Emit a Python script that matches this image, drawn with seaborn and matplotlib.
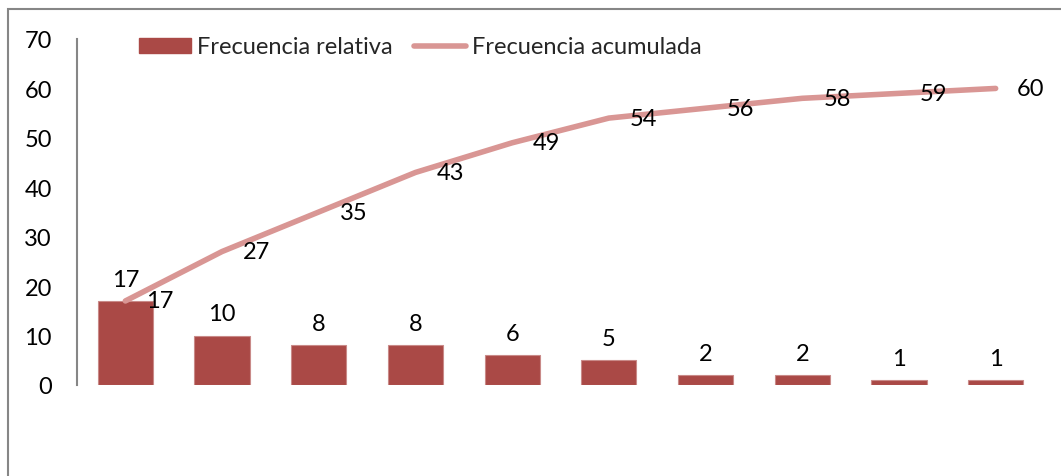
import numpy as np
import pandas as pd
import matplotlib
matplotlib.use("Agg")
import matplotlib.pyplot as plt
import seaborn as sns
from matplotlib.patches import Rectangle, Patch
from matplotlib.lines import Line2D

categories = ["1", "2", "3", "4", "5", "6", "7", "8", "9", "10"]
rel_freq = [17, 10, 8, 8, 6, 5, 2, 2, 1, 1]
cum_freq = [17, 27, 35, 43, 49, 54, 56, 58, 59, 60]
yticks = [0, 10, 20, 30, 40, 50, 60, 70]

sns.set_theme(style="white")
plt.rcParams['font.family'] = ['Lato', 'DejaVu Sans']

BAR = "#AA4946"
LINE = "#D99694"
FS = 17

W, H = 1061, 477
fig = plt.figure(figsize=(W / 100, H / 100), dpi=100)
fig.patch.set_facecolor("white")
ax = fig.add_axes([77 / W, 1 - 386 / H, (1044 - 77) / W, (386 - 40) / H])

df = pd.DataFrame({"cat": categories, "rel": rel_freq, "cum": cum_freq,
                   "pos": np.arange(len(categories))})

sns.barplot(data=df, x="cat", y="rel", color=BAR, saturation=1, width=0.57,
            edgecolor="#C98A88", linewidth=0.8, ax=ax)
sns.lineplot(data=df, x="pos", y="cum", color=LINE, linewidth=4,
             solid_capstyle="round", ax=ax)

ax.set_ylim(0, 70)
ax.set_xlim(-0.5, len(categories) - 0.5)
ax.set_yticks(yticks)
ax.set_yticklabels([str(t) for t in yticks], fontsize=FS, color="black")
ax.tick_params(axis="y", length=0, pad=18)
ax.set_xticks([])
ax.set_xlabel("")
ax.set_ylabel("")
for s in ["top", "right", "bottom"]:
    ax.spines[s].set_visible(False)
ax.spines["left"].set_color("#868686")
ax.spines["left"].set_linewidth(1.5)

# bar labels
for c in ax.containers:
    ax.bar_label(c, labels=[str(v) for v in rel_freq], padding=8,
                 fontsize=FS, color="black")

# line labels
for i, v in enumerate(cum_freq):
    ax.annotate(str(v), (i, v), xytext=(25, 0), textcoords="offset points",
                ha="center", va="center", fontsize=FS, color="black")

handles = [Patch(facecolor=BAR, edgecolor=BAR),
           Line2D([0], [0], color=LINE, linewidth=4, solid_capstyle="round")]
ax.legend(handles, ["Frecuencia relativa", "Frecuencia acumulada"],
          loc="center left", bbox_to_anchor=((139 - 77) / 967, 1 - (48 - 40) / 346),
          ncol=2, frameon=False, fontsize=FS, borderpad=0, borderaxespad=0,
          handlelength=2.2, handletextpad=0.25, columnspacing=0.9,
          handleheight=0.6)

# outer chart frame
fig.patches.append(Rectangle((8 / W, -0.2), 1.5, 1.2 - 10 / H,
                             transform=fig.transFigure, fill=False,
                             edgecolor="#868686", linewidth=1.5))

fig.savefig("out.png", dpi=100, facecolor="white")
